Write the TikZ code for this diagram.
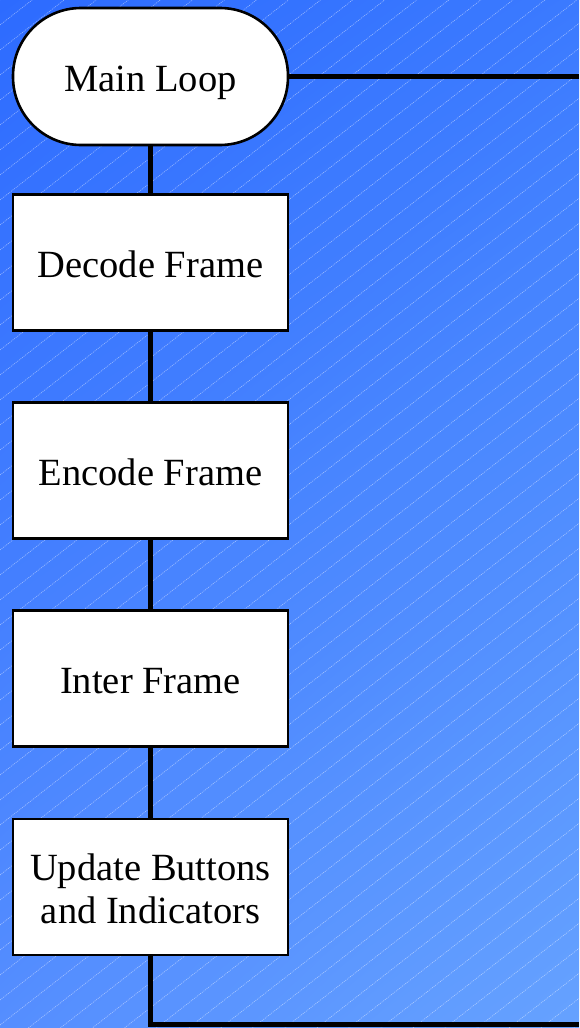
\documentclass[tikz,border=0pt]{standalone}
\usepackage{fontspec}
\setmainfont{Liberation Serif}
\usetikzlibrary{shadings}
\definecolor{bgUL}{HTML}{2D6BFF}
\definecolor{bgUR}{HTML}{3B7AFF}
\definecolor{bgLL}{HTML}{558EFF}
\definecolor{bgLR}{HTML}{66A2FF}
\begin{document}
\begin{tikzpicture}[x=1pt,y=-1pt,
  stepbox/.style={draw=black, fill=white, line width=2.6pt, rectangle,
    minimum width=275pt, minimum height=136pt, inner sep=0pt,
    font=\fontsize{38.5pt}{43pt}\selectfont, align=center,
    text height=32pt, text depth=3pt},
  twoline/.style={text height=75pt, text depth=3pt},
  termbox/.style={stepbox, rounded corners=68pt, minimum height=137pt},
  link/.style={draw=black, line width=4.6pt},
  hatch/.style={draw=white, opacity=0.5, line width=0.6pt, dash pattern=on 1pt off 1pt}]
\useasboundingbox (0,0) rectangle (579,1028);
\shade[upper left=bgUL, upper right=bgUR, lower left=bgLL, lower right=bgLR]
  (0,0) rectangle (579,1028);
\begin{scope}
  \clip (0,0) rectangle (579,1028);
  \foreach \c in {0,25,...,1500} {
    \draw[hatch] (0,\c) -- ++(2000,-1560);
  }
\end{scope}
\node[termbox] (main) at (150.5,76.5) {Main Loop};
\node[stepbox] (decode) at (150.5,262.5) {Decode Frame};
\node[stepbox] (encode) at (150.5,470.5) {Encode Frame};
\node[stepbox] (inter) at (150.5,678.5) {Inter Frame};
\node[stepbox, twoline] (update) at (150.5,887) {Update Buttons\\and Indicators};
\coordinate (rtop) at (579,76.5);
\coordinate (bcorner) at (150.5,1024.5);
\coordinate (bright) at (579,1024.5);
\draw[link] (main.east) -- (rtop);
\draw[link] (main.south) -- (decode.north);
\draw[link] (decode.south) -- (encode.north);
\draw[link] (encode.south) -- (inter.north);
\draw[link] (inter.south) -- (update.north);
\draw[link] (update.south) -- (bcorner) -- (bright);
\end{tikzpicture}
\end{document}
